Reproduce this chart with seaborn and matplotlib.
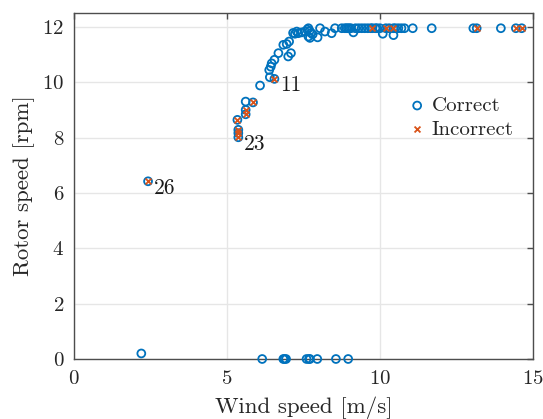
import matplotlib
matplotlib.use("Agg")
import matplotlib.pyplot as plt
import seaborn as sns
import pandas as pd

# Correct-classified points (wind speed m/s, rotor speed rpm)
correct_x = [2.2, 6.15, 6.84, 6.88, 6.93, 7.6, 7.68, 7.71, 7.95, 8.56, 8.96,
             5.61, 6.08, 6.40, 6.38, 6.43, 6.46, 6.55, 6.68, 6.84, 6.95, 7.03, 7.00, 7.09,
             7.16, 7.22, 7.28, 7.33, 7.44, 7.55, 7.62, 7.66, 7.66, 7.70, 7.71, 7.75, 7.80, 7.96,
             8.04, 8.20, 8.42, 8.53, 8.75, 8.85, 8.90, 8.95, 9.00, 9.05, 9.13, 9.20, 9.30,
             9.40, 9.50, 9.60, 9.70, 9.85, 9.90, 10.00, 10.09, 10.30, 10.44, 10.50, 10.60,
             10.70, 10.80, 11.07, 11.69, 13.05, 13.95]
correct_y = [0.2, 0, 0, 0, 0, 0, 0, 0, 0, 0, 0,
             9.30, 9.88, 10.18, 10.44, 10.56, 10.68, 10.81, 11.05, 11.35, 11.38, 11.47, 10.93, 11.05,
             11.78, 11.75, 11.83, 11.77, 11.80, 11.83, 11.90, 11.95, 11.65, 11.85, 11.60, 11.78, 11.73, 11.62,
             11.95, 11.83, 11.77, 11.95, 11.95, 11.95, 11.95, 11.95, 11.95, 11.95, 11.80, 11.95, 11.95,
             11.95, 11.95, 11.95, 11.95, 11.95, 11.95, 11.95, 11.75, 11.95, 11.70, 11.95, 11.95,
             11.95, 11.95, 11.95, 11.95, 11.95, 11.95]

# Incorrect-classified points
incorrect_x = [2.42, 5.34, 5.37, 5.37, 5.37, 5.61, 5.61, 5.85, 6.55,
               9.75, 10.19, 10.44, 13.16, 14.44, 14.63]
incorrect_y = [6.42, 8.64, 8.28, 8.16, 8.01, 9.00, 8.84, 9.27, 10.12,
               11.95, 11.95, 11.95, 11.95, 11.95, 11.95]

# Annotated sample ids
ann_text = ["26", "23", "11"]
ann_x = [2.42, 5.37, 6.55]
ann_y = [6.42, 8.01, 10.12]

blue = "#0072BD"
orange = "#D95319"

sns.set_style("whitegrid")
plt.rcParams.update({
    "font.family": ["cmr10", "DejaVu Serif"],
    "mathtext.fontset": "cm",
    "axes.formatter.use_mathtext": True,
    "axes.edgecolor": "#4d4d4d",
    "axes.linewidth": 1.0,
    "grid.color": "#e6e6e6",
    "grid.linewidth": 1.0,
    "xtick.direction": "in",
    "ytick.direction": "in",
    "xtick.top": True,
    "ytick.right": True,
    "xtick.color": "#4d4d4d",
    "ytick.color": "#4d4d4d",
    "xtick.labelcolor": "#262626",
    "ytick.labelcolor": "#262626",
})

all_df = pd.DataFrame({"x": correct_x + incorrect_x, "y": correct_y + incorrect_y})
inc_df = pd.DataFrame({"x": incorrect_x, "y": incorrect_y})

fig = plt.figure(figsize=(5.43, 4.19), dpi=100)
ax = fig.add_axes([74 / 543, 1 - 359 / 419, (533 - 74) / 543, (359 - 13) / 419])

sns.scatterplot(data=all_df, x="x", y="y", ax=ax, marker="o", s=32,
                facecolor="none", edgecolor=blue, linewidth=1.3, label="Correct",
                clip_on=False, zorder=3)
sns.scatterplot(data=inc_df, x="x", y="y", ax=ax, marker="x", s=18,
                color=orange, linewidth=1.3, label="Incorrect", clip_on=False, zorder=4)

for t, xx, yy in zip(ann_text, ann_x, ann_y):
    ax.annotate(t, (xx, yy), xytext=(4, -9), textcoords="offset points",
                fontsize=15.5, color="#1a1a1a")

ax.set_xlim(0, 15)
ax.set_ylim(0, 12.5)
ax.set_xticks([0, 5, 10, 15])
ax.set_yticks([0, 2, 4, 6, 8, 10, 12])
ax.tick_params(axis="both", labelsize=15, length=4, width=1.0)
ax.tick_params(axis="x", pad=8)
ax.tick_params(axis="y", pad=7)
ax.set_xlabel("Wind speed [m/s]", fontsize=16.5, color="#262626", labelpad=6)
ax.set_ylabel("Rotor speed [rpm]", fontsize=16.5, color="#262626", labelpad=5)
for sp in ax.spines.values():
    sp.set_visible(True)
    sp.set_color("#4d4d4d")

leg = ax.legend(loc="upper right", bbox_to_anchor=(0.985, 0.795), frameon=False,
                fontsize=15, handletextpad=0.1, borderaxespad=0.2, labelspacing=0.25,
                handlelength=1.2)
leg.legend_handles[0].set_facecolor("none")
leg.legend_handles[0].set_edgecolor(blue)

fig.savefig("out.png", dpi=100)
